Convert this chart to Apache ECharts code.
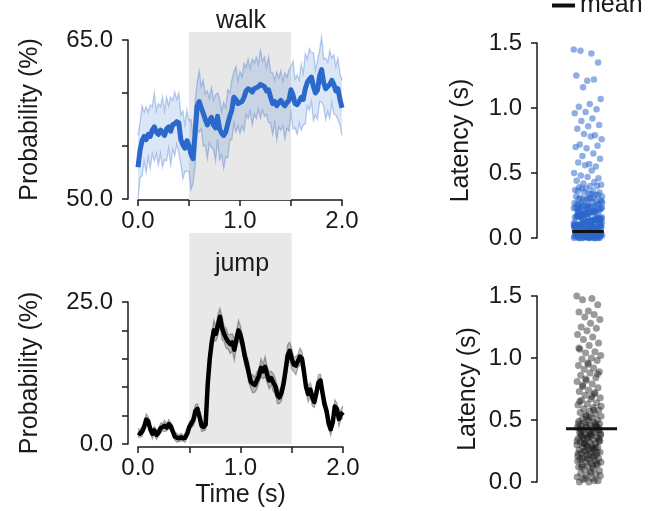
<!DOCTYPE html>
<html>
<head>
<meta charset="utf-8">
<script src="https://cdn.jsdelivr.net/npm/echarts@6/dist/echarts.min.js"></script>
<style>
  html, body { margin: 0; padding: 0; background: #fff; }
  #chart { width: 655px; height: 511px; }
</style>
</head>
<body>
<div id="chart"></div>
<script>
// ---- Data -------------------------------------------------------------
// Trial-averaged behaviour probability (%), sampled every 20 ms from 0 to 2 s.
const sampleStep = 0.02;

const walkMean = [
  53.0, 54.6, 55.5, 55.9, 55.6, 56.1, 55.9, 56.5, 56.8, 56.3,
  56.1, 56.5, 56.3, 56.0, 56.6, 56.8, 56.4, 57.0, 57.1, 57.3,
  57.2, 55.6, 55.1, 54.8, 55.5, 55.0, 54.2, 53.8, 56.2, 58.8,
  59.2, 58.6, 58.1, 57.5, 57.0, 57.4, 57.7, 57.0, 56.7, 57.8,
  56.6, 56.2, 56.0, 56.3, 57.1, 57.8, 58.4, 59.6, 59.4, 59.0,
  59.1, 59.2, 59.6, 60.2, 60.4, 60.3, 60.1, 60.4, 60.5, 60.6,
  60.8, 60.7, 60.6, 60.2, 60.3, 59.6, 59.0, 59.2, 58.8, 59.1,
  59.3, 59.0, 58.8, 59.1, 59.3, 60.3, 59.8, 59.0, 58.9, 59.2,
  59.6, 59.4, 60.4, 61.0, 61.3, 61.5, 60.6, 60.0, 60.3, 61.6,
  62.2, 61.0, 60.4, 60.6, 60.8, 61.2, 60.8, 60.2, 60.4, 59.4,
  58.6
];
const walkSem = [
  3.0, 2.6, 3.3, 2.3, 3.1, 2.1, 3.0, 2.2, 3.2, 2.0,
  2.9, 2.2, 3.3, 2.3, 3.0, 2.0, 3.2, 2.3, 3.0, 2.1,
  2.8, 2.3, 3.2, 2.2, 2.9, 2.4, 3.3, 2.3, 3.0, 2.2,
  2.9, 2.0, 3.1, 2.4, 3.2, 2.1, 2.8, 2.3, 3.1, 2.2,
  2.9, 2.0, 3.1, 2.3, 3.2, 2.2, 2.8, 2.4, 3.1, 2.1,
  2.9, 2.3, 3.2, 2.2, 2.8, 2.0, 3.1, 2.4, 2.9, 2.1,
  3.2, 2.3, 2.8, 2.2, 3.1, 2.4, 2.9, 2.0, 3.2, 2.3,
  2.8, 2.1, 3.1, 2.4, 2.9, 2.2, 3.2, 2.3, 2.8, 2.0,
  3.1, 2.4, 3.3, 2.2, 2.9, 2.3, 3.2, 2.1, 2.8, 2.4,
  3.1, 2.2, 2.9, 2.3, 3.2, 2.1, 2.8, 2.3, 2.9, 2.4,
  2.6
];

const jumpMean = [
  2.0, 1.8, 2.2, 3.0, 4.3, 4.0, 2.6, 1.8, 2.4, 1.6,
  2.0, 2.8, 3.0, 3.2, 2.9, 3.5, 3.1, 2.2, 1.3, 1.1,
  1.0, 1.2, 1.0, 1.1, 1.8, 3.0, 3.6, 4.2, 5.8, 6.2,
  4.8, 3.2, 3.0, 3.4, 10.5, 15.0, 18.0, 20.0, 19.4, 21.0,
  22.4, 20.4, 19.4, 18.6, 18.0, 17.6, 17.9, 16.6, 18.4, 20.0,
  19.2, 17.6, 15.6, 14.2, 12.6, 11.0, 10.6, 10.4, 11.2, 12.0,
  13.4, 12.8, 13.6, 12.2, 11.2, 11.6, 10.8, 10.2, 8.6, 8.2,
  9.0, 10.6, 13.0, 15.6, 16.4, 15.0, 14.0, 13.8, 14.6, 15.4,
  15.0, 12.6, 10.0, 8.8, 9.6, 8.2, 7.4, 9.0, 10.8, 11.2,
  9.0, 7.0, 5.8, 3.6, 2.6, 3.8, 6.6, 6.2, 4.4, 5.2,
  5.6
];
const jumpSem = [
  0.8, 0.6, 0.9, 0.7, 1.0, 0.8, 0.6, 0.9, 0.7, 0.8,
  0.6, 0.9, 0.7, 1.0, 0.6, 0.8, 0.7, 0.9, 0.6, 0.8,
  0.6, 0.7, 0.5, 0.8, 0.6, 0.9, 0.7, 1.0, 1.1, 0.9,
  0.8, 1.0, 0.7, 0.9, 1.2, 1.6, 1.4, 1.8, 1.3, 1.9,
  1.5, 2.0, 1.4, 1.8, 1.3, 1.7, 1.5, 1.9, 1.4, 1.8,
  1.6, 1.3, 1.7, 1.4, 1.8, 1.2, 1.6, 1.3, 1.5, 1.2,
  1.6, 1.3, 1.8, 1.4, 1.5, 1.2, 1.6, 1.3, 1.5, 1.1,
  1.4, 1.2, 1.6, 1.9, 1.5, 1.8, 1.3, 1.6, 1.2, 1.5,
  1.3, 1.6, 1.1, 1.4, 1.2, 1.5, 1.0, 1.3, 1.4, 1.1,
  1.3, 1.0, 1.2, 0.9, 1.1, 0.8, 1.2, 1.0, 1.3, 0.9,
  1.1
];

// Stimulus window (s)
const stimWindow = [0.5, 1.5];

// Response latencies (s) for individual trials
const walkLatency = [
  1.45, 1.42, 1.44, 1.35, 1.21, 1.25, 1.22, 1.16, 1.07, 1.03,
  1.01, 0.99, 0.97, 0.96, 0.92, 0.90, 0.87, 0.86, 0.84, 0.79,
  0.80, 0.76, 0.78, 0.72, 0.71, 0.69, 0.70, 0.65, 0.63, 0.61,
  0.57, 0.58, 0.55, 0.56, 0.50, 0.52, 0.48, 0.46, 0.47, 0.44,
  0.43, 0.42, 0.41, 0.40, 0.39, 0.40, 0.38, 0.37, 0.36, 0.38,
  0.35, 0.34, 0.36, 0.33, 0.35, 0.32, 0.34, 0.31, 0.33, 0.30,
  0.32, 0.31, 0.30, 0.29, 0.31, 0.30, 0.28, 0.29, 0.27, 0.28,
  0.27, 0.26, 0.25, 0.26, 0.24, 0.25, 0.23, 0.24, 0.22, 0.26,
  0.21, 0.23, 0.20, 0.25, 0.22, 0.19, 0.24, 0.21, 0.18, 0.23,
  0.20, 0.17, 0.22, 0.19, 0.16, 0.21, 0.18, 0.15, 0.20, 0.17,
  0.14, 0.19, 0.16, 0.13, 0.18, 0.15, 0.12, 0.17, 0.14, 0.11,
  0.16, 0.13, 0.10, 0.15, 0.12, 0.09, 0.14, 0.11, 0.08, 0.13,
  0.10, 0.07, 0.12, 0.09, 0.06, 0.11, 0.08, 0.05, 0.10, 0.07,
  0.04, 0.09, 0.06, 0.03, 0.08, 0.05, 0.02, 0.07, 0.04, 0.01,
  0.06, 0.03, 0.00, 0.05, 0.02, 0.01, 0.04, 0.00, 0.03, 0.02,
  0.01, 0.00, 0.02, 0.01, 0.00, 0.03, 0.05, 0.07, 0.09, 0.11,
  0.13, 0.15, 0.17, 0.19, 0.21, 0.23, 0.12, 0.08, 0.04, 0.06,
  0.10, 0.14, 0.18, 0.02, 0.00, 0.01, 0.03, 0.05, 0.09, 0.13,
  0.16, 0.20, 0.24, 0.07, 0.11, 0.15, 0.04, 0.08, 0.00, 0.02,
  0.06, 0.10, 0.01, 0.03, 0.14, 0.18, 0.22, 0.05, 0.09, 0.12,
  0.00, 0.02, 0.04, 0.01, 0.03, 0.06, 0.08, 0.11, 0.13, 0.17,
  0.02, 0.05, 0.01, 0.07, 0.03, 0.10, 0.00, 0.04, 0.12, 0.06,
  0.15, 0.02, 0.09, 0.01, 0.18, 0.04, 0.08, 0.00, 0.13, 0.03,
  0.21, 0.06, 0.01, 0.11, 0.05, 0.16, 0.02, 0.25, 0.07, 0.00,
  0.14, 0.03, 0.09, 0.19, 0.04, 0.01, 0.12, 0.06, 0.23, 0.02,
  0.08, 0.17, 0.00, 0.05, 0.28, 0.10, 0.03, 0.15, 0.01, 0.07,
  0.20, 0.04, 0.11, 0.02, 0.26, 0.06, 0.13, 0.00, 0.09, 0.18,
  0.03, 0.22, 0.05, 0.14, 0.01, 0.08, 0.30, 0.02, 0.16, 0.04,
  0.10, 0.24, 0.06, 0.00, 0.12, 0.19, 0.03, 0.07, 0.27, 0.01
];
const jumpLatency = [
  1.50, 1.48, 1.47, 1.43, 1.38, 1.37, 1.35, 1.33, 1.31, 1.28,
  1.25, 1.24, 1.22, 1.19, 1.17, 1.15, 1.12, 1.10, 1.07, 1.05,
  1.04, 1.02, 1.00, 0.99, 0.98, 0.96, 0.94, 0.92, 0.91, 0.89,
  0.88, 0.86, 0.84, 0.82, 0.81, 0.79, 0.77, 0.76, 0.74, 0.73,
  0.71, 0.70, 0.68, 0.67, 0.66, 0.64, 0.63, 0.62, 0.60, 0.59,
  0.58, 0.57, 0.56, 0.55, 0.54, 0.53, 0.52, 0.51, 0.50, 0.50,
  0.49, 0.48, 0.48, 0.47, 0.46, 0.46, 0.45, 0.44, 0.44, 0.43,
  0.42, 0.42, 0.41, 0.40, 0.40, 0.39, 0.38, 0.38, 0.37, 0.36,
  0.36, 0.35, 0.34, 0.34, 0.33, 0.32, 0.32, 0.31, 0.30, 0.30,
  0.29, 0.28, 0.28, 0.27, 0.26, 0.26, 0.25, 0.24, 0.24, 0.23,
  0.22, 0.22, 0.21, 0.20, 0.20, 0.19, 0.18, 0.18, 0.17, 0.16,
  0.16, 0.15, 0.14, 0.14, 0.13, 0.12, 0.11, 0.10, 0.09, 0.08,
  0.07, 0.06, 0.05, 0.04, 0.03, 0.02, 0.01, 0.00, 0.00, 0.01,
  0.03, 0.05, 0.08, 0.12, 0.15, 0.19, 0.23, 0.27, 0.31, 0.35,
  0.39, 0.43, 0.47, 0.53, 0.61, 0.69, 0.78, 0.87, 0.95, 1.08,
  0.21, 0.25, 0.33, 0.37, 0.41, 0.45, 0.29, 0.17, 0.13, 0.36,
  0.44, 0.52, 0.65, 0.72, 0.83, 0.39, 0.27, 0.19, 0.24, 0.35,
  0.47, 0.58, 0.31, 0.42, 0.22, 0.38, 0.28, 0.46, 0.33, 0.40
];
const walkLatencyMean = 0.05;
const jumpLatencyMean = 0.43;

// Labelled ticks
const walkProbLabels = [50, 65];
const jumpProbLabels = [0, 25];

// ---- Helpers ----------------------------------------------------------
const FONT = "'Liberation Sans', Arial, Helvetica, sans-serif";
const INK = '#1a1a1a';
const WALK_BLUE = '#2b68cc';

const timeAxis = walkMean.map((_, i) => +(i * sampleStep).toFixed(2));
const toPairs = vals => vals.map((v, i) => [timeAxis[i], v]);

// spread points horizontally (golden-ratio sequence) so they do not stack
const spread = (i, width, centre) => centre + (((i * 0.6180339887) % 1) - 0.5) * width;

const axisLine = { show: true, onZero: false, lineStyle: { color: INK, width: 1.5 } };
const axisTick = { show: true, length: 6, inside: false, lineStyle: { color: INK, width: 1.5 } };
const tickFont = { fontFamily: FONT, fontSize: 24, color: INK };
const nameFont = { fontFamily: FONT, fontSize: 25, color: INK };

function bandSeries(mean, sem, idx, fill, edge) {
  return {
    type: 'custom', xAxisIndex: idx, yAxisIndex: idx, z: 3, silent: true,
    data: [[timeAxis[0], mean[0]]],
    renderItem: (params, api) => {
      const up = mean.map((m, i) => api.coord([timeAxis[i], m + sem[i]]));
      const lo = mean.map((m, i) => api.coord([timeAxis[i], m - sem[i]]));
      return {
        type: 'group',
        children: [
          { type: 'polygon', shape: { points: up.concat(lo.slice().reverse()) }, style: { fill: fill } },
          { type: 'polyline', shape: { points: up }, style: { stroke: edge, lineWidth: 1.3, fill: null } },
          { type: 'polyline', shape: { points: lo }, style: { stroke: edge, lineWidth: 1.3, fill: null } }
        ]
      };
    }
  };
}

function windowSeries(idx) {
  return {
    type: 'custom', xAxisIndex: idx, yAxisIndex: idx, z: 1, silent: true,
    data: [[stimWindow[0], stimWindow[1]]],
    encode: { x: [0, 1] },
    renderItem: (params, api) => {
      const a = api.coord([api.value(0), 1]);
      const b = api.coord([api.value(1), 0]);
      return { type: 'rect', shape: { x: a[0], y: a[1], width: b[0] - a[0], height: b[1] - a[1] }, style: { fill: '#e8e8e8' } };
    }
  };
}

function timeXAxis(grid, offset, extra) {
  return Object.assign({
    gridIndex: grid, type: 'value', min: 0, max: 2, interval: 0.5, offset: offset,
    axisLine, axisTick, splitLine: { show: false },
    axisLabel: Object.assign({ margin: 9, formatter: v => Number.isInteger(v) ? v.toFixed(1) : '' }, tickFont)
  }, extra || {});
}

function probYAxis(grid, min, max, labels) {
  return {
    gridIndex: grid, type: 'value', min: min, max: max, interval: 5, offset: 10,
    name: 'Probability (%)', nameLocation: 'middle', nameGap: 85, nameTextStyle: nameFont,
    axisLine, axisTick, splitLine: { show: false },
    axisLabel: Object.assign({ margin: 15, formatter: v => labels.includes(v) ? v.toFixed(1) : '' }, tickFont)
  };
}

function latencyYAxis(grid, gap) {
  return {
    gridIndex: grid, type: 'value', min: 0, max: 1.5, interval: 0.5,
    name: 'Latency (s)', nameLocation: 'middle', nameGap: gap, nameTextStyle: nameFont,
    axisLine, axisTick, splitLine: { show: false },
    axisLabel: Object.assign({ margin: 15, formatter: v => v.toFixed(1) }, tickFont)
  };
}

const hiddenAxis = (grid, min, max) => ({
  gridIndex: grid, type: 'value', min: min, max: max, show: false,
  axisLine: { show: false, onZero: false }, axisTick: { show: false }, axisLabel: { show: false }, splitLine: { show: false }
});

function meanBar(idx, value, x0, x1) {
  return {
    name: 'mean', type: 'line', xAxisIndex: idx, yAxisIndex: idx, z: 10,
    data: [[x0, value], [x1, value]], symbol: 'none',
    lineStyle: { color: '#111', width: 3 }, itemStyle: { color: '#111' }
  };
}

// ---- Chart ------------------------------------------------------------
const chart = echarts.init(document.getElementById('chart'), null, { renderer: 'canvas' });

chart.setOption({
  animation: false,
  backgroundColor: '#fff',
  grid: [
    { left: 138, top: 40, width: 204, height: 159, containLabel: false, outerBoundsMode: 'none' },
    { left: 138, top: 302, width: 205, height: 142, containLabel: false, outerBoundsMode: 'none' },
    { left: 537, top: 43, width: 102, height: 195, containLabel: false, outerBoundsMode: 'none' },
    { left: 537, top: 296, width: 102, height: 186, containLabel: false, outerBoundsMode: 'none' },
    { left: 138, top: 32, width: 204, height: 168, containLabel: false, outerBoundsMode: 'none' },
    { left: 138, top: 233, width: 205, height: 211, containLabel: false, outerBoundsMode: 'none' }
  ],
  xAxis: [
    timeXAxis(0, 1),
    timeXAxis(1, 3, { name: 'Time (s)', nameLocation: 'middle', nameGap: 36, nameTextStyle: nameFont }),
    hiddenAxis(2, -1, 1),
    hiddenAxis(3, -1, 1),
    hiddenAxis(4, 0, 2),
    hiddenAxis(5, 0, 2)
  ],
  yAxis: [
    probYAxis(0, 50, 65, walkProbLabels),
    probYAxis(1, 0, 25, jumpProbLabels),
    latencyYAxis(2, 63),
    latencyYAxis(3, 56),
    hiddenAxis(4, 0, 1),
    hiddenAxis(5, 0, 1)
  ],
  legend: {
    data: ['mean'], left: 547, top: -12, icon: 'rect', itemWidth: 23, itemHeight: 4, itemGap: 4,
    textStyle: { fontFamily: FONT, fontSize: 25, color: INK }, selectedMode: false
  },
  graphic: [
    { type: 'text', z: 100, x: 241, y: 21, style: { text: 'walk', fontFamily: FONT, fontSize: 25, fill: INK, align: 'center', verticalAlign: 'middle', textAlign: 'center', textVerticalAlign: 'middle' } },
    { type: 'text', z: 100, x: 242, y: 264, style: { text: 'jump', fontFamily: FONT, fontSize: 25, fill: INK, align: 'center', verticalAlign: 'middle', textAlign: 'center', textVerticalAlign: 'middle' } }
  ],
  series: [
    windowSeries(4),
    windowSeries(5),
    bandSeries(walkMean, walkSem, 0, 'rgba(43,104,204,0.17)', 'rgba(43,104,204,0.32)'),
    bandSeries(jumpMean, jumpSem, 1, 'rgba(0,0,0,0.22)', 'rgba(0,0,0,0.28)'),
    {
      name: 'walk', type: 'line', xAxisIndex: 0, yAxisIndex: 0, z: 5,
      data: toPairs(walkMean), symbol: 'none',
      lineStyle: { color: WALK_BLUE, width: 5, join: 'round' }
    },
    {
      name: 'jump', type: 'line', xAxisIndex: 1, yAxisIndex: 1, z: 5,
      data: toPairs(jumpMean), symbol: 'none',
      lineStyle: { color: '#000', width: 4.5, join: 'round' }
    },
    {
      name: 'walk latency', type: 'scatter', xAxisIndex: 2, yAxisIndex: 2, z: 6,
      data: walkLatency.map((v, i) => [spread(i, 0.56, 0), v]),
      symbolSize: 6.5, itemStyle: { color: 'rgba(43,104,204,0.65)' }
    },
    {
      name: 'jump latency', type: 'scatter', xAxisIndex: 3, yAxisIndex: 3, z: 6,
      data: jumpLatency.map((v, i) => [spread(i, 0.48, 0.02), v]),
      symbolSize: 7, itemStyle: { color: 'rgba(25,25,25,0.55)' }
    },
    meanBar(2, walkLatencyMean, -0.31, 0.31),
    meanBar(3, jumpLatencyMean, -0.43, 0.57)
  ]
});
</script>
</body>
</html>
